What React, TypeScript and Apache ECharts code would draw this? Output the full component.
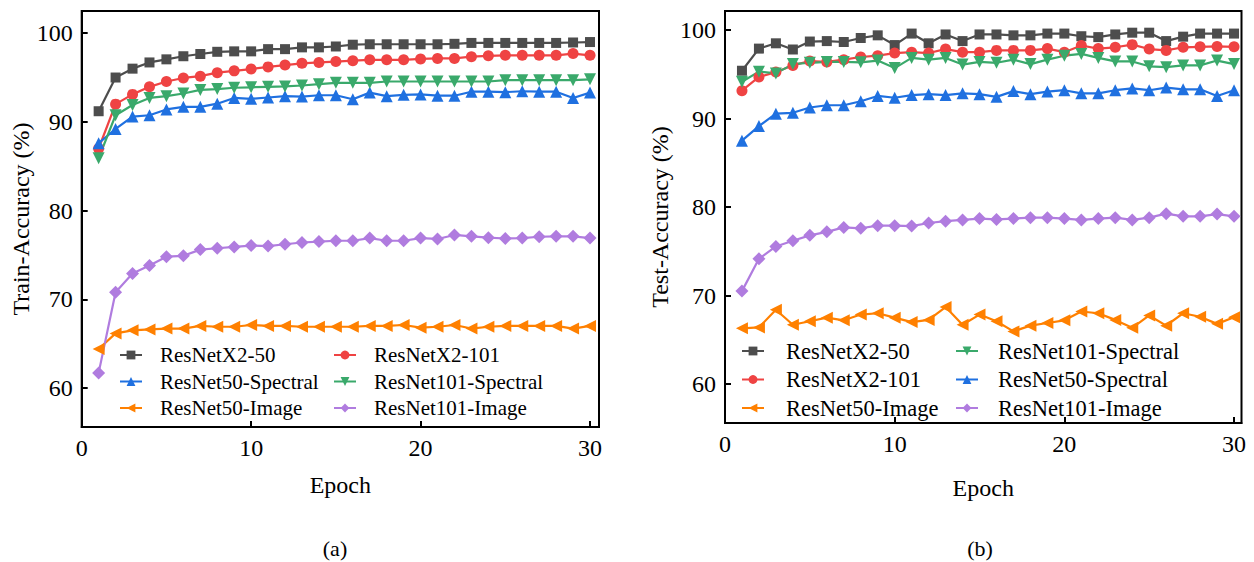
import React, { useEffect, useRef } from "react";
import * as echarts from "echarts";

const epochs = [1, 2, 3, 4, 5, 6, 7, 8, 9, 10, 11, 12, 13, 14, 15, 16, 17, 18, 19, 20, 21, 22, 23, 24, 25, 26, 27, 28, 29, 30];

// (a) Train accuracy
const trainX2_50 = [91.2, 95.0, 96.0, 96.7, 97.05, 97.4, 97.65, 97.9, 97.95, 97.95, 98.2, 98.2, 98.4, 98.4, 98.5, 98.7, 98.75, 98.75, 98.75, 98.75, 98.75, 98.8, 98.9, 98.9, 98.9, 98.9, 98.9, 98.9, 98.95, 99.0];
const trainX2_101 = [87.0, 92.0, 93.1, 93.95, 94.55, 94.95, 95.15, 95.55, 95.75, 95.95, 96.2, 96.4, 96.6, 96.7, 96.8, 96.9, 97.0, 97.0, 97.0, 97.1, 97.15, 97.15, 97.35, 97.45, 97.5, 97.5, 97.5, 97.5, 97.7, 97.5];
const train50Spectral = [87.6, 89.2, 90.6, 90.75, 91.4, 91.7, 91.7, 92.05, 92.7, 92.6, 92.75, 92.9, 92.85, 93.0, 93.0, 92.55, 93.3, 92.9, 93.05, 93.1, 92.95, 92.95, 93.4, 93.4, 93.35, 93.45, 93.4, 93.4, 92.7, 93.3];
const train101Spectral = [85.9, 90.75, 91.9, 92.7, 92.9, 93.2, 93.6, 93.7, 93.85, 93.9, 93.95, 94.0, 94.1, 94.25, 94.4, 94.4, 94.4, 94.55, 94.55, 94.55, 94.55, 94.55, 94.55, 94.55, 94.7, 94.7, 94.7, 94.7, 94.7, 94.8];
const train50Image = [64.4, 66.15, 66.5, 66.6, 66.7, 66.7, 67.0, 66.9, 66.9, 67.1, 67.0, 67.0, 66.9, 66.9, 66.9, 66.9, 67.0, 67.0, 67.1, 66.8, 66.9, 67.1, 66.7, 66.9, 67.0, 67.0, 67.0, 67.0, 66.7, 67.0];
const train101Image = [61.7, 70.8, 72.9, 73.8, 74.8, 74.9, 75.6, 75.75, 75.9, 76.05, 76.0, 76.2, 76.4, 76.5, 76.6, 76.6, 76.9, 76.6, 76.6, 76.9, 76.8, 77.25, 77.1, 76.95, 76.85, 76.9, 77.05, 77.1, 77.1, 76.9];

// (b) Test accuracy
const testX2_50 = [95.4, 97.9, 98.5, 97.8, 98.7, 98.75, 98.65, 99.1, 99.4, 98.3, 99.6, 98.5, 99.5, 98.75, 99.5, 99.5, 99.4, 99.4, 99.6, 99.6, 99.3, 99.2, 99.5, 99.7, 99.7, 98.75, 99.25, 99.6, 99.6, 99.6];
const testX2_101 = [93.15, 94.7, 95.25, 96.0, 96.5, 96.4, 96.65, 96.95, 97.1, 97.4, 97.5, 97.4, 97.85, 97.5, 97.5, 97.7, 97.7, 97.7, 97.9, 97.5, 98.25, 97.9, 98.05, 98.35, 97.85, 97.7, 98.05, 98.1, 98.15, 98.1];
const test101Spectral = [94.15, 95.3, 95.1, 96.15, 96.3, 96.4, 96.4, 96.35, 96.55, 95.7, 96.85, 96.65, 96.85, 96.1, 96.4, 96.3, 96.65, 96.15, 96.65, 97.1, 97.3, 96.85, 96.45, 96.45, 95.9, 95.8, 96.0, 96.0, 96.55, 96.15];
const test50Spectral = [87.5, 89.15, 90.55, 90.65, 91.25, 91.5, 91.5, 91.95, 92.55, 92.35, 92.65, 92.75, 92.65, 92.85, 92.75, 92.45, 93.1, 92.75, 93.05, 93.2, 92.85, 92.85, 93.2, 93.4, 93.2, 93.5, 93.3, 93.3, 92.55, 93.2];
const test50Image = [66.3, 66.4, 68.4, 66.7, 67.1, 67.5, 67.2, 67.85, 68.0, 67.5, 67.0, 67.25, 68.7, 66.7, 67.85, 67.1, 65.95, 66.6, 66.9, 67.2, 68.2, 68.0, 67.25, 66.35, 67.75, 66.6, 68.0, 67.6, 66.8, 67.55];
const test101Image = [70.5, 74.15, 75.55, 76.2, 76.8, 77.2, 77.7, 77.6, 77.9, 77.9, 77.85, 78.2, 78.4, 78.55, 78.7, 78.6, 78.7, 78.8, 78.8, 78.7, 78.55, 78.7, 78.8, 78.55, 78.8, 79.25, 78.95, 78.95, 79.2, 78.95];

const xTicks = [0, 10, 20, 30];
const yTicks = [60, 70, 80, 90, 100];

const N_X2_50 = "ResNetX2-50";
const N_X2_101 = "ResNetX2-101";
const N_50S = "ResNet50-Spectral";
const N_101S = "ResNet101-Spectral";
const N_50I = "ResNet50-Image";
const N_101I = "ResNet101-Image";

const FONT = "Liberation Serif";

const styles: Record<string, any> = {
  [N_X2_50]: { color: "#4d4d4d", symbol: "rect", symbolSize: 10, symbolRotate: 0 },
  [N_X2_101]: { color: "#ef4343", symbol: "circle", symbolSize: 11, symbolRotate: 0 },
  [N_50S]: { color: "#1f70e0", symbol: "triangle", symbolSize: 12, symbolRotate: 0 },
  [N_101S]: { color: "#3aa96b", symbol: "triangle", symbolSize: 12, symbolRotate: 180 },
  [N_50I]: { color: "#ff8000", symbol: "triangle", symbolSize: 12, symbolRotate: 90 },
  [N_101I]: { color: "#b07cdf", symbol: "diamond", symbolSize: 13, symbolRotate: 0 },
};

function mk(name: string, values: number[], idx: number) {
  const s = styles[name];
  return {
    type: "line",
    name,
    xAxisIndex: idx,
    yAxisIndex: idx,
    data: epochs.map((e, i) => [e, values[i]]),
    symbol: s.symbol,
    symbolSize: s.symbolSize,
    symbolRotate: s.symbolRotate,
    lineStyle: { width: 2.2, color: s.color },
    itemStyle: { color: s.color },
  };
}

function xAxis(idx: number, gap: number) {
  return {
    gridIndex: idx,
    type: "value",
    min: 0,
    max: idx === 0 ? 30.53 : 30.44,
    axisLine: { show: true, lineStyle: { color: "#000", width: 2 } },
    axisTick: { show: true, inside: true, length: 6, customValues: xTicks, lineStyle: { color: "#000", width: 2 } },
    axisLabel: { customValues: xTicks, fontSize: 24, fontFamily: FONT, color: "#000", margin: 9 },
    splitLine: { show: false },
    name: "Epoch",
    nameLocation: "middle",
    nameGap: gap,
    nameTextStyle: { fontSize: 24, fontFamily: FONT, color: "#000" },
  };
}

function yAxis(idx: number, name: string, max: number, gap: number) {
  return {
    gridIndex: idx,
    type: "value",
    min: 55.6,
    max,
    axisLine: { show: true, lineStyle: { color: "#000", width: 2 } },
    axisTick: { show: true, inside: true, length: 6, customValues: yTicks, lineStyle: { color: "#000", width: 2 } },
    axisLabel: { customValues: yTicks, fontSize: 24, fontFamily: FONT, color: "#000", margin: 9 },
    splitLine: { show: false },
    name,
    nameLocation: "middle",
    nameGap: gap,
    nameTextStyle: { fontSize: 24, fontFamily: FONT, color: "#000" },
  };
}

function legend(names: string[], left: number, top: number, fontSize: number, gap: number, pad: number) {
  return {
    orient: "vertical",
    left,
    top,
    data: names,
    itemWidth: 22,
    itemHeight: 11,
    itemGap: gap,
    padding: 0,
    textStyle: { fontSize, fontFamily: FONT, color: "#000", lineHeight: 24, padding: [0, 0, 0, pad] },
  };
}

export default function App() {
  const ref = useRef<HTMLDivElement>(null);
  useEffect(() => {
    if (!ref.current) return;
    const chart = echarts.init(ref.current, undefined, { renderer: "svg" });
    const option: any = {
      animation: false,
      backgroundColor: "#fff",
      grid: [
        { left: 81.7, top: 11, width: 517.3, height: 416, show: true, borderColor: "#000", borderWidth: 2 },
        { left: 725, top: 11, width: 516.5, height: 412, show: true, borderColor: "#000", borderWidth: 2 },
      ],
      xAxis: [xAxis(0, 46), xAxis(1, 53)],
      yAxis: [yAxis(0, "Train-Accuracy (%)", 102.5, 48), yAxis(1, "Test-Accuracy (%)", 102.15, 53)],
      legend: [
        legend([N_X2_50, N_50S, N_50I], 119, 343, 21, 2.5, 13),
        legend([N_X2_101, N_101S, N_101I], 333, 343, 21, 2.5, 13),
        legend([N_X2_50, N_X2_101, N_50I], 741, 339, 22.5, 4.5, 17),
        legend([N_101S, N_50S, N_101I], 955, 339, 22.5, 4.5, 15),
      ],
      graphic: [
        { type: "text", x: 335, y: 548, style: { text: "(a)", fontSize: 22, fontFamily: FONT, fill: "#000", textAlign: "center", textVerticalAlign: "middle" } },
        { type: "text", x: 980, y: 548, style: { text: "(b)", fontSize: 22, fontFamily: FONT, fill: "#000", textAlign: "center", textVerticalAlign: "middle" } },
      ],
      series: [
        mk(N_X2_50, trainX2_50, 0),
        mk(N_X2_101, trainX2_101, 0),
        mk(N_50S, train50Spectral, 0),
        mk(N_101S, train101Spectral, 0),
        mk(N_50I, train50Image, 0),
        mk(N_101I, train101Image, 0),
        mk(N_X2_50, testX2_50, 1),
        mk(N_X2_101, testX2_101, 1),
        mk(N_101S, test101Spectral, 1),
        mk(N_50S, test50Spectral, 1),
        mk(N_50I, test50Image, 1),
        mk(N_101I, test101Image, 1),
      ],
    };
    chart.setOption(option);
    return () => chart.dispose();
  }, []);
  return <div ref={ref} style={{ position: "absolute", left: 0, top: 0, width: 1254, height: 562 }} />;
}
